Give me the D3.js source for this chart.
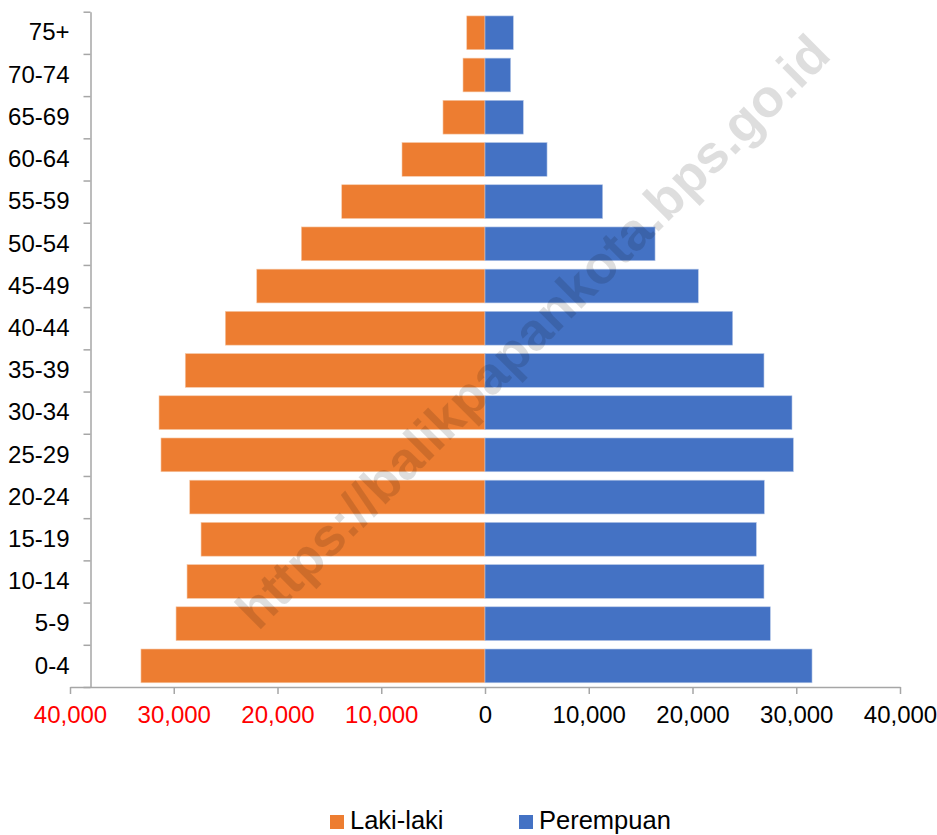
<!DOCTYPE html>
<html>
<head>
<meta charset="utf-8">
<script src="https://cdn.jsdelivr.net/npm/d3@7"></script>
<style>
  body { margin: 0; background: #fff; }
  svg text { font-family: "Liberation Sans", Arial, sans-serif; }
</style>
</head>
<body>
<div id="chart"></div>
<script>
// kelompok umur, bottom to top
var ageGroups = ["0-4", "5-9", "10-14", "15-19", "20-24", "25-29", "30-34", "35-39",
                 "40-44", "45-49", "50-54", "55-59", "60-64", "65-69", "70-74", "75+"];
var lakiLaki = [33160, 29780, 28720, 27370, 28460, 31230, 31420, 28890,
                25030, 22000, 17700, 13810, 8000, 4050, 2120, 1760];
var perempuan = [31520, 27500, 26890, 26150, 26920, 29720, 29590, 26890,
                 23870, 20560, 16390, 11340, 5980, 3690, 2470, 2730];
var xTicks = [-40000, -30000, -20000, -10000, 0, 10000, 20000, 30000, 40000];
var seriesNames = ["Laki-laki", "Perempuan"];
var seriesColors = ["#ED7D31", "#4472C4"];

var w = 937, h = 835;
var plotLeft = 70, plotRight = 900, plotTop = 11.7, plotBottom = 687, axisX = 90.5;

var svg = d3.select("#chart").append("svg").attr("width", w).attr("height", h);

var x = d3.scaleLinear().domain([-40000, 40000]).range([plotLeft, plotRight]);
var y = d3.scaleBand().domain(ageGroups).range([plotBottom, plotTop])
  .paddingInner(0.2).paddingOuter(0.1);
var yEdge = d3.scaleLinear().domain([0, ageGroups.length]).range([plotBottom, plotTop]);

var rows = ageGroups.map(function(a, i) {
  return {age: a, l: lakiLaki[i], p: perempuan[i]};
});

// bars
svg.append("g").selectAll("rect").data(rows).enter().append("rect")
  .attr("x", function(d) { return x(-d.l); })
  .attr("width", function(d) { return x(0) - x(-d.l); })
  .attr("y", function(d) { return y(d.age); })
  .attr("height", y.bandwidth())
  .attr("fill", seriesColors[0])
  .attr("stroke", "#f6c9a8").attr("stroke-width", 0.6);

svg.append("g").selectAll("rect").data(rows).enter().append("rect")
  .attr("x", x(0))
  .attr("width", function(d) { return x(d.p) - x(0); })
  .attr("y", function(d) { return y(d.age); })
  .attr("height", y.bandwidth())
  .attr("fill", seriesColors[1])
  .attr("stroke", "#b4c6e7").attr("stroke-width", 0.6);

// watermark
svg.append("text")
  .attr("transform", "translate(532,331) rotate(-45)")
  .attr("text-anchor", "middle").attr("dy", "0.36em")
  .style("font-size", "53px").style("font-weight", "bold")
  .attr("fill", "rgba(0,0,0,0.13)")
  .text("https://balikpapankota.bps.go.id");

// x axis
var fmt = d3.format(",");
var gx = svg.append("g").attr("transform", "translate(0," + plotBottom + ")")
  .call(d3.axisBottom(x).tickValues(xTicks).tickSize(7).tickSizeOuter(0)
    .tickPadding(12).tickFormat(function(d) { return fmt(Math.abs(d)); }));
gx.select(".domain").attr("stroke", "#a6a6a6").attr("stroke-width", 1.5);
gx.selectAll(".tick line").attr("stroke", "#a6a6a6").attr("stroke-width", 1.5);
gx.selectAll(".tick text").style("font-size", "24px")
  .attr("fill", function(d) { return d < 0 ? "#ff0000" : "#000"; });

// y axis: boundary ticks
var gyEdge = svg.append("g").attr("transform", "translate(" + axisX + ",0)")
  .call(d3.axisLeft(yEdge).ticks(ageGroups.length).tickSize(7).tickSizeOuter(0)
    .tickFormat(""));
gyEdge.select(".domain").attr("stroke", "#a6a6a6").attr("stroke-width", 1.5);
gyEdge.selectAll(".tick line").attr("stroke", "#a6a6a6").attr("stroke-width", 1.5);

// y axis: labels
var gy = svg.append("g").attr("transform", "translate(" + axisX + ",0)")
  .call(d3.axisLeft(y).tickSize(0).tickPadding(21));
gy.select(".domain").remove();
gy.selectAll(".tick text").style("font-size", "24px").attr("fill", "#000");

// legend
var legend = svg.append("g").selectAll("g").data(seriesNames).enter().append("g")
  .attr("transform", function(d, i) { return "translate(" + [330, 519][i] + ",815)"; });
legend.append("rect").attr("width", 14).attr("height", 14)
  .attr("fill", function(d, i) { return seriesColors[i]; });
legend.append("text").attr("x", 20).attr("y", 14)
  .style("font-size", "25.5px").attr("fill", "#000")
  .text(function(d) { return d; });
</script>
</body>
</html>
